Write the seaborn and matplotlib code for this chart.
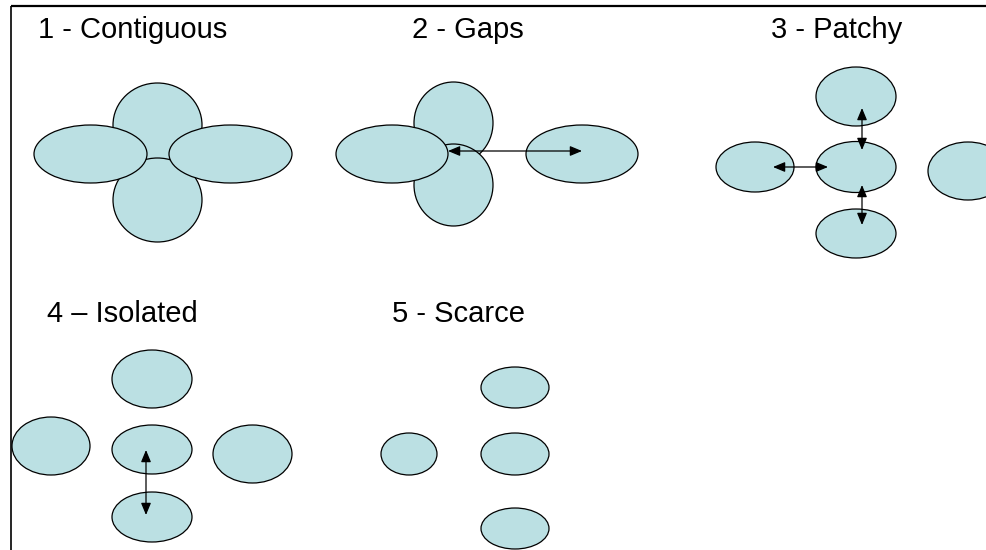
import matplotlib

matplotlib.use("Agg")
import matplotlib.pyplot as plt
import seaborn as sns
from matplotlib.patches import Ellipse

# canvas is measured in pixels of the 986x550 picture, y grows downwards
W, H = 986, 550

FILL = "#BBE0E3"

TITLES = ["1 - Contiguous", "2 - Gaps", "3 - Patchy", "4 \u2013 Isolated", "5 - Scarce"]
TITLE_X = [133, 468, 837, 122, 459]
TITLE_Y = [38, 38, 38, 322, 322]

# ellipses per panel: centre x, centre y, width, height (drawing order matters)
P1_X = [157.5, 157.5, 90.5, 230.5]
P1_Y = [125, 200, 154, 154]
P1_W = [89, 89, 113, 123]
P1_H = [84, 84, 58, 58]

P2_X = [453.5, 453.5, 392, 582]
P2_Y = [123, 185, 154, 154]
P2_W = [79, 79, 112, 112]
P2_H = [82, 82, 58, 58]

P3_X = [856, 856, 755, 968, 856]
P3_Y = [96.5, 167, 167, 171, 233.5]
P3_W = [80, 80, 78, 80, 80]
P3_H = [59, 51, 50, 58, 49]

P4_X = [152, 152, 152, 51, 252.5]
P4_Y = [379, 449.5, 517, 446, 454]
P4_W = [80, 80, 80, 78, 79]
P4_H = [58, 49, 50, 58, 58]

P5_X = [409, 515, 515, 515]
P5_Y = [454, 387.5, 454, 528.5]
P5_W = [56, 68, 68, 68]
P5_H = [42, 41, 42, 41]

# double headed arrows: x0, y0, x1, y1
ARROWS = [
    (448, 151, 582, 151),
    (862, 108, 862, 150),
    (862, 185, 862, 225),
    (773, 167, 828, 167),
    (146, 450, 146, 515),
]

sns.set_theme(style="white")
plt.rcParams["font.family"] = ["Liberation Sans", "DejaVu Sans"]

fig = plt.figure(figsize=(W / 100, H / 100), dpi=100)
ax = fig.add_axes([0, 0, 1, 1])
ax.set_xlim(0, W)
ax.set_ylim(H, 0)
ax.axis("off")

# border of the slide
ax.plot([11, W], [6, 6], color="black", lw=1.6, solid_capstyle="butt")
ax.plot([11, 11], [6, H], color="black", lw=1.2, solid_capstyle="butt")

for xs, ys, ws, hs in [
    (P1_X, P1_Y, P1_W, P1_H),
    (P2_X, P2_Y, P2_W, P2_H),
    (P3_X, P3_Y, P3_W, P3_H),
    (P4_X, P4_Y, P4_W, P4_H),
    (P5_X, P5_Y, P5_W, P5_H),
]:
    for x, y, w, h in zip(xs, ys, ws, hs):
        ax.add_patch(
            Ellipse((x, y), w, h, facecolor=FILL, edgecolor="black", lw=0.9)
        )

for x0, y0, x1, y1 in ARROWS:
    ax.annotate(
        "",
        xy=(x1, y1),
        xytext=(x0, y0),
        arrowprops=dict(
            arrowstyle="<|-|>,head_length=0.6,head_width=0.25",
            mutation_scale=12,
            shrinkA=0,
            shrinkB=0,
            color="black",
            lw=0.9,
        ),
        zorder=5,
    )

for label, x, y in zip(TITLES, TITLE_X, TITLE_Y):
    ax.text(x, y, label, fontsize=21, ha="center", va="baseline", color="black")

fig.savefig("out.png", dpi=100)
